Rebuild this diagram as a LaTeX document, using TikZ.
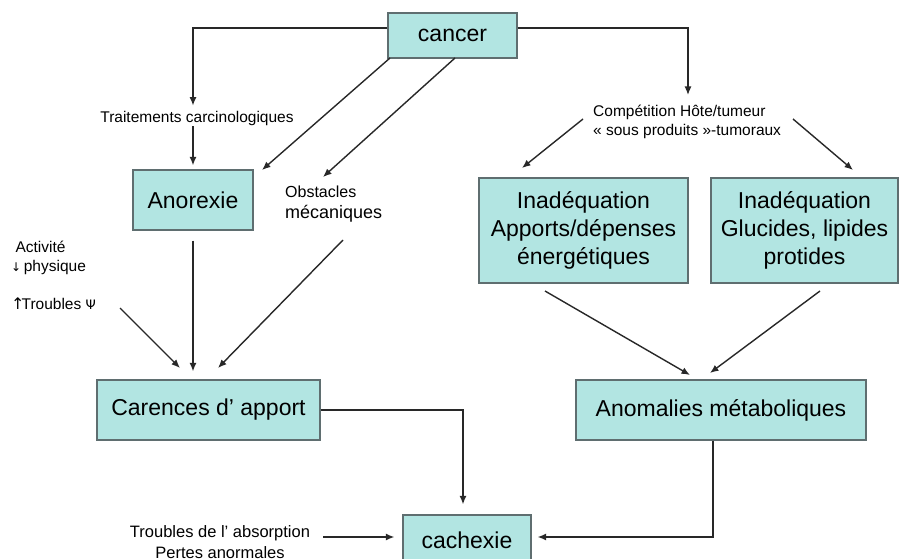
\documentclass[tikz,border=0pt]{standalone}
\usepackage{fontspec}
\setmainfont{Liberation Sans}
\newfontfamily\symfont{DejaVu Sans}
\usetikzlibrary{arrows.meta}
\definecolor{boxfill}{RGB}{178,229,226}
\definecolor{boxline}{RGB}{95,110,112}
\definecolor{conn}{RGB}{40,40,40}
\tikzset{
  bx/.style={draw=boxline, line width=1.2pt, fill=boxfill, inner sep=0pt, align=center,
    font=\fontsize{23}{28}\selectfont},
  lbl/.style={inner sep=1pt, font=\fontsize{15.5}{19}\selectfont},
  lblbig/.style={inner sep=1pt, font=\fontsize{18}{21}\selectfont},
  arr/.style={draw=conn, line width=1.4pt, -{Latex[length=8.5pt,width=7pt]}},
}
\begin{document}
\begin{tikzpicture}[x=1pt,y=-1pt]
\useasboundingbox[fill=white] (0,0) rectangle (911,559);
% boxes
\node[bx, minimum width=129pt, minimum height=45pt] (cancer) at (452.5,35.5) {cancer};
\node[bx, minimum width=120pt, minimum height=60pt] (anorexie) at (193,200) {Anorexie};
\node[bx, minimum width=209pt, minimum height=105pt] (inad1) at (583.5,230.5) {Inadéquation\\Apports/dépenses\\énergétiques};
\node[bx, minimum width=187pt, minimum height=105pt] (inad2) at (804.5,230.5) {Inadéquation\\Glucides, lipides\\protides};
\node[bx, minimum width=223pt, minimum height=60pt] (carences) at (208.5,410) {Carences d’ apport};
\node[bx, minimum width=290pt, minimum height=60pt] (anomalies) at (721,410) {Anomalies métaboliques};
\node[bx, minimum width=128pt, minimum height=50pt] (cachexie) at (467,540) {cachexie};
% labels
\node[lbl] (trait) at (197,118) {Traitements carcinologiques};
\node[lbl, anchor=west, align=left] (compet) at (592,121.5) {Compétition Hôte/tumeur\\« sous produits »-tumoraux};
\node[lblbig, anchor=west, align=left] (obst) at (284,204) {\fontsize{16}{19}\selectfont Obstacles\\mécaniques};
\node[lbl, anchor=west, align=left] (activ) at (10,258) {\;Activité\\{\symfont\fontsize{12}{14}\selectfont↓}\,physique};
\node[lbl, anchor=west] (psi) at (10,304) {{\symfont\fontsize{16}{14}\selectfont↑}\kern-3pt Troubles {\symfont\fontsize{13}{14}\selectfont Ψ}};
\node[lblbig, align=center] (absorb) at (220,542) {\fontsize{16.5}{20}\selectfont Troubles de l’ absorption\\\fontsize{16.5}{20}\selectfont Pertes anormales};
% free ends
\coordinate (c1) at (390,58);
\coordinate (c2) at (455,58);
\coordinate (e1) at (262,170);
\coordinate (e2) at (323,177);
\coordinate (cs1) at (583,119);
\coordinate (cs2) at (793,119);
\coordinate (ei1) at (522,168);
\coordinate (ei2) at (853,170);
\coordinate (os) at (343,240);
\coordinate (oe) at (218,368);
\coordinate (ps) at (120,308);
\coordinate (pe) at (180,368);
\coordinate (is1) at (545,291);
\coordinate (ie1) at (690,375);
\coordinate (is2) at (820,291);
\coordinate (ie2) at (710,373);
% connectors
\draw[arr] ([yshift=7.5pt]cancer.west) -| ([yshift=4pt]trait.north -| anorexie.north);
\draw[arr] (trait.south -| anorexie.north) -- ([yshift=4pt]anorexie.north);
\draw[arr] (c1) -- (e1);
\draw[arr] (c2) -- (e2);
\draw[arr] ([yshift=7.5pt]cancer.east) -| (688,95);
\draw[arr] (cs1) -- (ei1);
\draw[arr] (cs2) -- (ei2);
\draw[arr, shorten <=10pt] (anorexie.south) -- ([yshift=8pt]anorexie.south |- carences.north);
\draw[arr] (os) -- (oe);
\draw[arr] (ps) -- (pe);
\draw[arr] (is1) -- (ie1);
\draw[arr] (is2) -- (ie2);
\draw[arr] (carences.east) -| ([yshift=10pt]cachexie.north -| 463,0);
\draw[arr] (anomalies.south -| 713,0) |- ([xshift=6pt,yshift=3pt]cachexie.east);
\draw[arr, shorten <=12pt, shorten >=8pt] (absorb.east |- 0,537) -- (cachexie.west |- 0,537);
\end{tikzpicture}
\end{document}
